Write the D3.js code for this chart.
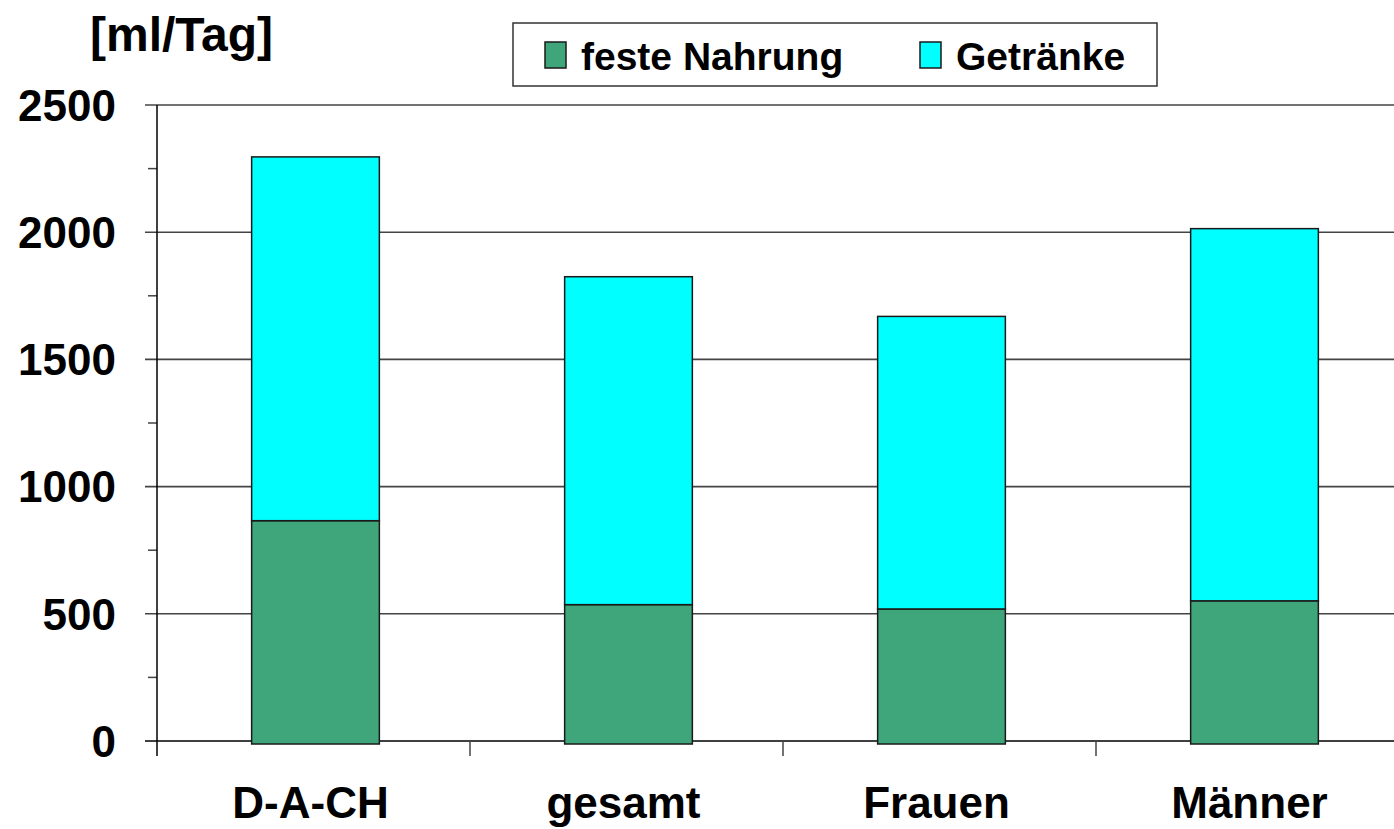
<!DOCTYPE html>
<html>
<head>
<meta charset="utf-8">
<script src="https://cdn.jsdelivr.net/npm/d3@7"></script>
<style>
  body { margin: 0; background: #fff; }
  svg { display: block; }
</style>
</head>
<body>
<div class="main"></div>
<script>
const width = 1394;
const height = 829;
const margin = ({top: 105, right: -15, bottom: 88, left: 157});

// Werte
const categories = ['D-A-CH', 'gesamt', 'Frauen', 'Männer'];
const festeNahrung = [866, 536, 519, 551];
const getraenke = [1430, 1289, 1150, 1463];
const seriesNames = ['feste Nahrung', 'Getränke'];
const seriesColors = ['#3ea67a', '#00ffff'];
const yTicks = [0, 500, 1000, 1500, 2000, 2500];
const yMinorTicks = [250, 750, 1250, 1750, 2250];

const font = '"Liberation Sans", Arial, sans-serif';

const data = categories.map((c, i) => ({cat: c, feste: festeNahrung[i], getr: getraenke[i]}));
const stacked = d3.stack().keys(['feste', 'getr'])(data);

const svg = d3.select('.main')
  .append('svg')
  .attr('width', width)
  .attr('height', height)
  .style('font-family', font)
  .style('font-weight', 'bold');

const y = d3.scaleLinear()
  .domain([0, 2500])
  .range([741, margin.top]);

const x = d3.scaleBand()
  .domain(categories)
  .range([margin.left, width - margin.right])
  .padding(0);

const barW = x.bandwidth() * 0.408;

// Gitterlinien
svg.append('g')
  .selectAll('line')
  .data(yTicks)
  .join('line')
  .attr('x1', margin.left - 12)
  .attr('x2', width)
  .attr('y1', d => y(d))
  .attr('y2', d => y(d))
  .attr('stroke', d => d === 0 ? '#000' : '#444')
  .attr('stroke-width', 1.6);

// kleine Ticks
svg.append('g')
  .selectAll('line')
  .data(yMinorTicks)
  .join('line')
  .attr('x1', margin.left - 9)
  .attr('x2', margin.left)
  .attr('y1', d => y(d))
  .attr('y2', d => y(d))
  .attr('stroke', '#444')
  .attr('stroke-width', 1.5);

// Balken
svg.append('g')
  .selectAll('g')
  .data(stacked)
  .join('g')
  .attr('fill', (d, i) => seriesColors[i])
  .selectAll('rect')
  .data(d => d)
  .join('rect')
  .attr('x', d => x(d.data.cat) + (x.bandwidth() - barW) / 2 + 2)
  .attr('width', barW)
  .attr('y', d => y(d[1]))
  .attr('height', d => y(d[0]) - y(d[1]) + (d[0] === 0 ? 3 : 0))
  .attr('stroke', '#1a1a1a')
  .attr('stroke-width', 1.5);

// Achsen
svg.append('line')
  .attr('x1', margin.left).attr('x2', margin.left)
  .attr('y1', y(2500)).attr('y2', y(0) + 15)
  .attr('stroke', '#000').attr('stroke-width', 1.5);

svg.append('g')
  .selectAll('line')
  .data(categories.slice(1))
  .join('line')
  .attr('x1', d => x(d)).attr('x2', d => x(d))
  .attr('y1', y(0)).attr('y2', y(0) + 15)
  .attr('stroke', '#444').attr('stroke-width', 1.5);

svg.append('g')
  .attr('text-anchor', 'end')
  .style('font-size', '44px')
  .selectAll('text')
  .data(yTicks)
  .join('text')
  .attr('x', 116)
  .attr('y', d => y(d))
  .attr('dy', '0.36em')
  .text(d => d);

svg.append('g')
  .attr('text-anchor', 'middle')
  .style('font-size', '44px')
  .selectAll('text')
  .data(categories)
  .join('text')
  .attr('x', d => x(d) + x.bandwidth() / 2 - 3)
  .attr('y', 818)
  .text(d => d);

svg.append('text')
  .attr('x', 90)
  .attr('y', 51)
  .style('font-size', '48px')
  .text('[ml/Tag]');

// Legende
const legend = svg.append('g');
legend.append('rect')
  .attr('x', 513).attr('y', 23)
  .attr('width', 644).attr('height', 63)
  .attr('fill', '#fff')
  .attr('stroke', '#333').attr('stroke-width', 1.5);

const legendX = [545, 920];
seriesNames.forEach((name, i) => {
  legend.append('rect')
    .attr('x', legendX[i]).attr('y', 42)
    .attr('width', 21).attr('height', 26)
    .attr('fill', seriesColors[i])
    .attr('stroke', '#1a1a1a').attr('stroke-width', 1.5);
  legend.append('text')
    .attr('x', legendX[i] + 36)
    .attr('y', 70)
    .style('font-size', '39px')
    .text(name);
});
</script>
</body>
</html>
